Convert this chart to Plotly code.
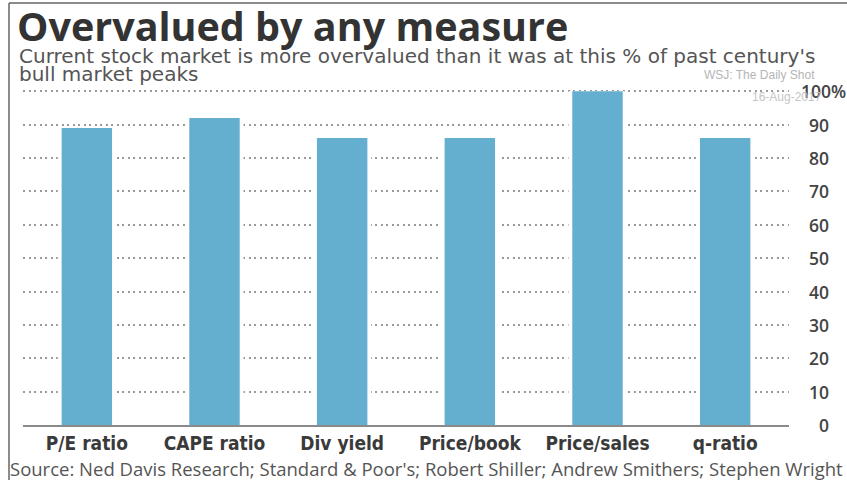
import plotly.graph_objects as go

categories = ["P/E ratio", "CAPE ratio", "Div yield", "Price/book", "Price/sales", "q-ratio"]
values = [89, 92, 86, 86, 100, 86]
tick_vals = [0, 10, 20, 30, 40, 50, 60, 70, 80, 90, 100]
tick_text = ["0", "10", "20", "30", "40", "50", "60", "70", "80", "90", "100%"]

title = "Overvalued by any measure"
subtitle1 = "Current stock market is more overvalued than it was at this % of past century's"
subtitle2 = "bull market peaks"
source = "Source: Ned Davis Research; Standard & Poor's; Robert Shiller; Andrew Smithers; Stephen Wright"
wm1 = "WSJ: The Daily Shot"
wm2 = "16-Aug-2017"

W, H = 847, 480
ML, MR, MT, MB = 23, 58, 88, 55
PW = W - ML - MR
PH = H - MT - MB

def px(x):
    return (x - ML) / PW

def py(ytop):
    return (H - MB - ytop) / PH

BAR = "#64aed0"

fig = go.Figure()
# white halo behind bars to break the gridlines
fig.add_trace(go.Bar(x=categories, y=values, width=0.455, marker=dict(color="white", line=dict(width=0)),
                     hoverinfo="skip", showlegend=False))
fig.add_trace(go.Bar(x=categories, y=values, width=0.395, marker=dict(color=BAR, line=dict(width=0)),
                     showlegend=False))

fig.update_layout(
    width=W, height=H,
    margin=dict(l=ML, r=MR, t=MT, b=MB),
    paper_bgcolor="white", plot_bgcolor="white",
    barmode="overlay",
    xaxis=dict(
        showgrid=False, showline=True, linecolor="#8a8a8a", linewidth=1.5,
        ticks="", tickfont=dict(family="Liberation Sans Narrow, DejaVu Sans Condensed, sans-serif",
                                size=19, color="#3a3a3a", weight="bold"),
        range=[-0.5, 5.5], fixedrange=True,
    ),
    yaxis=dict(
        range=[0, 101], showgrid=True, gridcolor="#9a9a9a", gridwidth=1.6, griddash="2px,3.5px",
        tickvals=tick_vals[1:], showticklabels=False, zeroline=False, showline=False,
    ),
    font=dict(family="Open Sans, sans-serif"),
)

ann = []
ylab_font = dict(family="Open Sans, sans-serif", size=17.5, color="#444444", weight=600)
for v, t in zip(tick_vals, tick_text):
    xr = 848 if t.endswith("%") else 831
    ann.append(dict(xref="paper", yref="y", x=px(xr), y=v, text=t, xanchor="right", yanchor="middle",
                    showarrow=False, font=ylab_font))

ann.append(dict(xref="paper", yref="paper", x=px(15), y=py(26), text="<b>" + title + "</b>",
                xanchor="left", yanchor="middle", showarrow=False,
                font=dict(family="Open Sans, sans-serif", size=39.5, color="#333333")))
ann.append(dict(xref="paper", yref="paper", x=px(17), y=py(56), text=subtitle1,
                xanchor="left", yanchor="middle", showarrow=False,
                font=dict(family="DejaVu Sans, sans-serif", size=20, color="#555555")))
ann.append(dict(xref="paper", yref="paper", x=px(17), y=py(74), text=subtitle2,
                xanchor="left", yanchor="middle", showarrow=False,
                font=dict(family="DejaVu Sans, sans-serif", size=20, color="#555555")))
ann.append(dict(xref="paper", yref="paper", x=px(817), y=py(75), text=wm1,
                xanchor="right", yanchor="middle", showarrow=False,
                font=dict(family="Liberation Sans, sans-serif", size=12, color="#b5b5b5")))
ann.append(dict(xref="paper", yref="paper", x=px(824), y=py(97), text=wm2,
                xanchor="right", yanchor="middle", showarrow=False,
                font=dict(family="Liberation Sans, sans-serif", size=12, color="#c5c5c5")))
ann.append(dict(xref="paper", yref="paper", x=px(8), y=py(468), text=source,
                xanchor="left", yanchor="middle", showarrow=False,
                font=dict(family="Open Sans, sans-serif", size=18.5, color="#555555")))
fig.update_layout(annotations=ann)

fig.add_shape(type="line", xref="paper", yref="paper", x0=px(9), x1=px(W), y0=py(3), y1=py(3),
              line=dict(color="#666666", width=1.5))
fig.add_shape(type="line", xref="paper", yref="paper", x0=px(9), x1=px(9), y0=py(3), y1=py(H),
              line=dict(color="#666666", width=1.5))

fig.write_html("out.html")
